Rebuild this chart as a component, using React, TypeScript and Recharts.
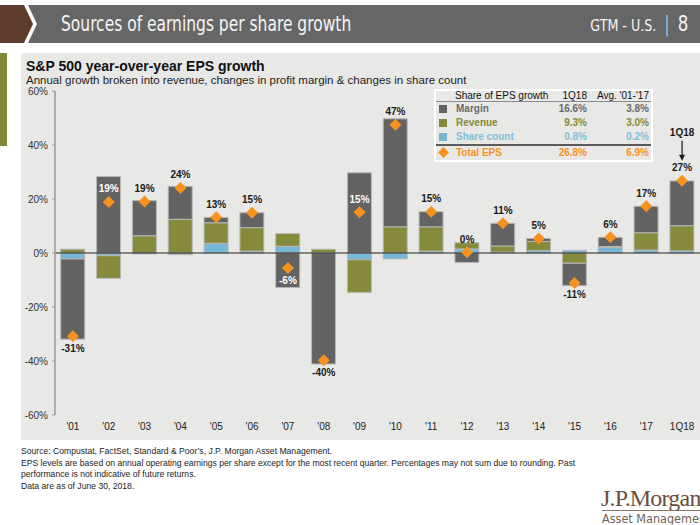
import { ComposedChart, Bar, Line, XAxis, YAxis, ReferenceLine } from 'recharts';

const categories = ["'01", "'02", "'03", "'04", "'05", "'06", "'07", "'08", "'09", "'10", "'11", "'12", "'13", "'14", "'15", "'16", "'17", '1Q18'];
const margin = [-29.7, 28.3, 13.0, 12.2, 2.0, 5.5, -12.8, -41.1, 29.7, 40.0, 5.6, -3.5, 8.4, 1.1, -8.3, 3.4, 9.8, 16.6];
const revenue = [1.4, -8.4, 6.4, 12.5, 7.6, 8.7, 4.7, 1.4, -12.1, 9.7, 9.0, 2.3, 2.3, 3.4, -3.8, 0.4, 6.4, 9.3];
const shareCount = [-2.2, -1.0, -0.3, -0.6, 3.6, 0.7, 2.5, 0, -2.5, -2.2, 0.7, 1.5, 0.3, 0.9, 1.0, 2.0, 1.1, 0.8];
const totalEps = [-30.8, 18.9, 19.1, 24.1, 13.2, 14.9, -5.6, -39.7, 15.1, 47.5, 15.3, 0.3, 11.0, 5.4, -11.1, 5.8, 17.3, 26.8];
const epsLabels = ['-31%', '19%', '19%', '24%', '13%', '15%', '-6%', '-40%', '15%', '47%', '15%', '0%', '11%', '5%', '-11%', '6%', '17%', '27%'];
const yTicks = [-60, -40, -20, 0, 20, 40, 60];

const legendRows = [
  { name: 'Margin', q: '16.6%', avg: '3.8%', color: '#6a6a6a', fill: '#636363' },
  { name: 'Revenue', q: '9.3%', avg: '3.0%', color: '#858a36', fill: '#868b3b' },
  { name: 'Share count', q: '0.8%', avg: '0.2%', color: '#7fc0dc', fill: '#74b8d6' },
];
const totalRow = { name: 'Total EPS', q: '26.8%', avg: '6.9%' };

const footnotes = [
  'Source: Compustat, FactSet, Standard & Poor\u2019s, J.P. Morgan Asset Management.',
  'EPS levels are based on annual operating earnings per share except for the most recent quarter. Percentages may not sum due to rounding. Past',
  'performance is not indicative of future returns.',
  'Data are as of June 30, 2018.',
];

const data = categories.map((cat, i) => ({
  cat,
  margin: margin[i],
  revenue: revenue[i],
  share: shareCount[i],
  total: totalEps[i],
}));

const MARGIN = '#636363';
const REVENUE = '#868b3b';
const SHARE = '#74b8d6';
const ORANGE = '#f7921e';
const ARIAL = "'Liberation Sans', Arial, sans-serif";
const NARROW = "'Liberation Sans Narrow', 'DejaVu Sans Condensed', sans-serif";

function EpsDot(props: any) {
  const { cx, cy, index } = props;
  if (cx == null || cy == null) return null;
  const t = totalEps[index];
  const parts = [margin[index], revenue[index], shareCount[index]];
  const pos = parts.filter((v) => v > 0).reduce((a, b) => a + b, 0);
  const neg = parts.filter((v) => v < 0).reduce((a, b) => a + b, 0);
  // white label when it sits inside the bar
  const inside = t >= 0 ? pos - t > 6 : t - neg > 6;
  const ly = t >= 0 ? cy - 13 : cy + 12;
  const last = index === categories.length - 1;
  return (
    <g key={`eps-${index}`}>
      <polygon
        points={`${cx},${cy - 6} ${cx + 6},${cy} ${cx},${cy + 6} ${cx - 6},${cy}`}
        fill={ORANGE}
      />
      <text
        x={cx}
        y={ly}
        textAnchor="middle"
        dominantBaseline="central"
        fontSize={10}
        fontWeight="bold"
        fontFamily={ARIAL}
        fill={inside ? '#ffffff' : '#1a1a1a'}
      >
        {epsLabels[index]}
      </text>
      {last && (
        <g>
          <text x={cx} y={cy - 48} textAnchor="middle" dominantBaseline="central" fontSize={10} fontWeight="bold" fontFamily={ARIAL} fill="#1a1a1a">
            1Q18
          </text>
          <line x1={cx} y1={cy - 40} x2={cx} y2={cy - 25} stroke="#1a1a1a" strokeWidth={1.2} />
          <polygon points={`${cx - 3},${cy - 26} ${cx + 3},${cy - 26} ${cx},${cy - 20}`} fill="#1a1a1a" />
        </g>
      )}
    </g>
  );
}

function Legend() {
  const cell: any = { position: 'absolute', transform: 'translateY(-50%)', lineHeight: 1, whiteSpace: 'nowrap' };
  const rowY = [18, 32, 46];
  return (
    <div
      style={{
        position: 'absolute', left: 434, top: 89, width: 219, height: 73,
        border: '2px solid #ffffff', boxSizing: 'border-box', fontFamily: ARIAL, fontSize: 10,
      }}
    >
      <span style={{ ...cell, top: 5, left: 19, color: '#111' }}>Share of EPS growth</span>
      <span style={{ ...cell, top: 5, right: 64, color: '#111' }}>1Q18</span>
      <span style={{ ...cell, top: 5, right: 2, color: '#111' }}>Avg. '01-'17</span>
      <div style={{ position: 'absolute', left: 0, right: 0, top: 10, height: 1, background: '#8c8c8c' }} />
      {legendRows.map((r, i) => (
        <div key={r.name}>
          <div style={{ position: 'absolute', left: 3, top: rowY[i] - 4, width: 8, height: 8, background: r.fill }} />
          <span style={{ ...cell, top: rowY[i], left: 20, color: r.color, fontWeight: 'bold' }}>{r.name}</span>
          <span style={{ ...cell, top: rowY[i], right: 64, color: r.color, fontWeight: 'bold' }}>{r.q}</span>
          <span style={{ ...cell, top: rowY[i], right: 2, color: r.color, fontWeight: 'bold' }}>{r.avg}</span>
        </div>
      ))}
      <div style={{ position: 'absolute', left: 0, right: 0, top: 53, height: 2, background: '#5a5a5a' }} />
      <svg style={{ position: 'absolute', left: 2, top: 56 }} width={11} height={11}>
        <polygon points="5.5,0 11,5.5 5.5,11 0,5.5" fill={ORANGE} />
      </svg>
      <span style={{ ...cell, top: 62, left: 20, color: ORANGE, fontWeight: 'bold' }}>{totalRow.name}</span>
      <span style={{ ...cell, top: 62, right: 64, color: ORANGE, fontWeight: 'bold' }}>{totalRow.q}</span>
      <span style={{ ...cell, top: 62, right: 2, color: ORANGE, fontWeight: 'bold' }}>{totalRow.avg}</span>
    </div>
  );
}

export default function App() {
  return (
    <div style={{ position: 'absolute', left: 0, top: 0, width: 700, height: 525, background: '#ffffff', overflow: 'hidden' }}>
      {/* header banner */}
      <svg style={{ position: 'absolute', left: 0, top: 0 }} width={700} height={50}>
        <polygon points="0,5 24,5 33,24 24,43 0,43" fill="#5e3c2c" />
        <polygon points="28,5 700,5 700,43 28,43 37,24" fill="#666666" />
      </svg>
      <div style={{ position: 'absolute', left: 61, top: 10, color: '#f4f4f4', fontFamily: NARROW, fontSize: 21, lineHeight: '28px', whiteSpace: 'nowrap', transform: 'scaleX(0.82)', transformOrigin: 'left center' }}>
        Sources of earnings per share growth
      </div>
      <div style={{ position: 'absolute', right: 12, top: 10, color: '#f4f4f4', fontFamily: NARROW, fontSize: 16, lineHeight: '28px', whiteSpace: 'nowrap', transform: 'scaleX(0.88)', transformOrigin: 'right center' }}>
        GTM - U.S.
        <span style={{ color: '#8fc3e0', margin: '0 9px', fontSize: 21 }}>|</span>
        <span style={{ fontSize: 21 }}>8</span>
      </div>

      {/* side accent + panel */}
      <div style={{ position: 'absolute', left: 0, top: 53, width: 7, height: 93, background: '#838839' }} />
      <div style={{ position: 'absolute', left: 21, top: 53, width: 679, height: 387, background: '#e8e8e6' }} />

      <div style={{ position: 'absolute', left: 26, top: 58, fontFamily: ARIAL, fontSize: 14, fontWeight: 'bold', color: '#111' }}>
        S&amp;P 500 year-over-year EPS growth
      </div>
      <div style={{ position: 'absolute', left: 26, top: 74, fontFamily: ARIAL, fontSize: 11.5, color: '#222' }}>
        Annual growth broken into revenue, changes in profit margin &amp; changes in share count
      </div>

      <div style={{ position: 'absolute', left: 0, top: 0 }}>
        <ComposedChart
          width={700}
          height={440}
          data={data}
          stackOffset="sign"
          barCategoryGap="16%"
          margin={{ top: 91, right: 0, bottom: 5, left: 0 }}
        >
          <XAxis
            dataKey="cat"
            axisLine={false}
            tickLine={false}
            height={20}
            tickMargin={2}
            interval={0}
            tick={{ fontSize: 10, fill: '#222', fontFamily: ARIAL }}
          />
          <YAxis
            type="number"
            domain={[-60, 60]}
            ticks={yTicks}
            width={55}
            interval={0}
            tickFormatter={(v: number) => `${v}%`}
            axisLine={{ stroke: '#9a9a9a', strokeWidth: 1.5 }}
            tickLine={{ stroke: '#9a9a9a' }}
            tickSize={3}
            tickMargin={4}
            tick={{ fontSize: 10, fill: '#333', fontFamily: ARIAL }}
          />
          <Bar dataKey="share" stackId="a" fill={SHARE} stroke="#b8b8b8" strokeWidth={1} isAnimationActive={false} />
          <Bar dataKey="revenue" stackId="a" fill={REVENUE} stroke="#b8b8b8" strokeWidth={1} isAnimationActive={false} />
          <Bar dataKey="margin" stackId="a" fill={MARGIN} stroke="#b8b8b8" strokeWidth={1} isAnimationActive={false} />
          <ReferenceLine y={0} stroke="#222" strokeWidth={1} />
          <Line
            dataKey="total"
            stroke="none"
            dot={(p: any) => <EpsDot {...p} />}
            activeDot={false}
            legendType="none"
            isAnimationActive={false}
          />
        </ComposedChart>
      </div>

      <Legend />

      {/* footnotes */}
      <div style={{ position: 'absolute', left: 21, top: 446, fontFamily: ARIAL, fontSize: 8.6, lineHeight: '11.6px', color: '#222' }}>
        {footnotes.map((f) => (
          <div key={f} style={{ whiteSpace: 'nowrap' }}>{f}</div>
        ))}
      </div>

      {/* logo */}
      <div style={{ position: 'absolute', left: 601, top: 484, fontFamily: "'Liberation Serif', serif", fontSize: 24, lineHeight: '28px', color: '#6b4f3e', whiteSpace: 'nowrap', letterSpacing: -0.8 }}>
        J.P.Morgan
      </div>
      <div style={{ position: 'absolute', left: 602, top: 510, width: 98, height: 1, background: '#8a7566' }} />
      <div style={{ position: 'absolute', left: 602, top: 512, fontFamily: NARROW, fontSize: 12.5, lineHeight: '13px', color: '#6e6259', whiteSpace: 'nowrap' }}>
        Asset Management
      </div>
    </div>
  );
}
